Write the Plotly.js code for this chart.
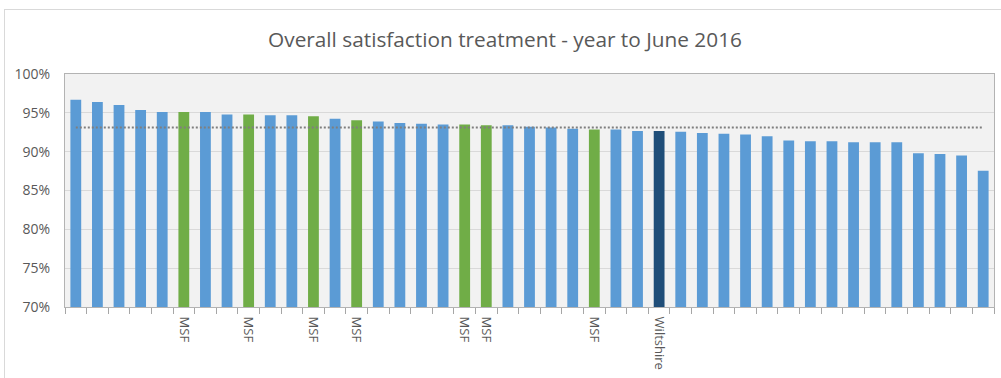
<!DOCTYPE html>
<html>
<head>
<meta charset="utf-8">
<script src="https://cdn.plot.ly/plotly-3.0.1.min.js"></script>
<style>
  html, body { margin: 0; padding: 0; background: #fff; }
  #wrap { position: relative; width: 1001px; height: 378px; overflow: hidden; }
  #chart { position: absolute; left: 0; top: 0; width: 1001px; height: 378px; }
  #frame { position: absolute; left: 4px; top: 9px; width: 1020px; height: 400px;
           border: 1px solid #d9d9d9; pointer-events: none; }
</style>
</head>
<body>
<div id="wrap">
  <div id="chart"></div>
  <div id="frame"></div>
</div>
<script>
// Area labels along the x axis (most areas are unnamed)
const labels = [
  '', '', '', '', '', 'MSF', '', '', 'MSF', '', '',
  'MSF', '', 'MSF', '', '', '', '', 'MSF', 'MSF', '', '',
  '', '', 'MSF', '', '', 'Wiltshire', '', '', '', '', '',
  '', '', '', '', '', '', '', '', '', ''
];

// Overall satisfaction with treatment, % (year to June 2016)
const satisfaction = [
  96.7, 96.4, 96.0, 95.35, 95.1, 95.1, 95.1, 94.8, 94.8, 94.7, 94.7,
  94.55, 94.25, 94.05, 93.9, 93.7, 93.6, 93.5, 93.5, 93.4, 93.4, 93.2,
  93.1, 92.95, 92.85, 92.85, 92.65, 92.65, 92.55, 92.4, 92.3, 92.2, 92.0,
  91.45, 91.35, 91.35, 91.2, 91.2, 91.2, 89.8, 89.7, 89.5, 87.55
];

// National average
const average = 93.1;

const ids = labels.map((_, i) => i + 1);

const colourFor = (lab) =>
  lab === 'MSF' ? '#70ad47' : lab === 'Wiltshire' ? '#1f4e79' : '#5b9bd5';

const bars = {
  type: 'bar',
  x: ids,
  y: satisfaction,
  marker: { color: labels.map(colourFor) },
  hoverinfo: 'y',
  showlegend: false
};

const avgLine = {
  type: 'scatter',
  mode: 'lines',
  x: [ids[0], ids[ids.length - 1]],
  y: [average, average],
  line: { color: '#7f7f7f', width: 2, dash: '2px,2px' },
  hoverinfo: 'skip',
  showlegend: false
};

const layout = {
  width: 1001,
  height: 378,
  margin: { l: 65, r: 7, t: 74, b: 71 },
  paper_bgcolor: '#ffffff',
  plot_bgcolor: '#f2f2f2',
  font: { family: '"Open Sans", "Noto Sans", sans-serif', color: '#595959' },
  title: {
    text: 'Overall satisfaction treatment - year to June 2016',
    font: { size: 20.8, color: '#595959' },
    xref: 'container', yref: 'container',
    x: 0.5045, y: 0.895, xanchor: 'center', yanchor: 'middle'
  },
  bargap: 0.5,
  xaxis: {
    type: 'category',
    tickmode: 'array',
    tickvals: ids,
    ticktext: labels,
    tickangle: 90,
    tickson: 'boundaries',
    ticks: 'outside',
    ticklen: 6,
    tickcolor: '#a6a6a6',
    ticklabelstandoff: 6,
    tickfont: { size: 13, color: '#595959' },
    showline: true,
    linecolor: '#b3b3b3',
    linewidth: 1,
    mirror: true,
    showgrid: false,
    zeroline: false,
    fixedrange: true
  },
  yaxis: {
    range: [70, 100],
    dtick: 5,
    tick0: 70,
    ticksuffix: '%',
    tickfont: { size: 14, color: '#595959' },
    ticks: '',
    ticklen: 0,
    ticklabelstandoff: 11,
    showline: true,
    linecolor: '#b3b3b3',
    linewidth: 1,
    mirror: true,
    gridcolor: '#d9d9d9',
    gridwidth: 1,
    zeroline: false,
    fixedrange: true
  }
};

Plotly.newPlot('chart', [bars, avgLine], layout, { displayModeBar: false, staticPlot: true });
</script>
</body>
</html>
